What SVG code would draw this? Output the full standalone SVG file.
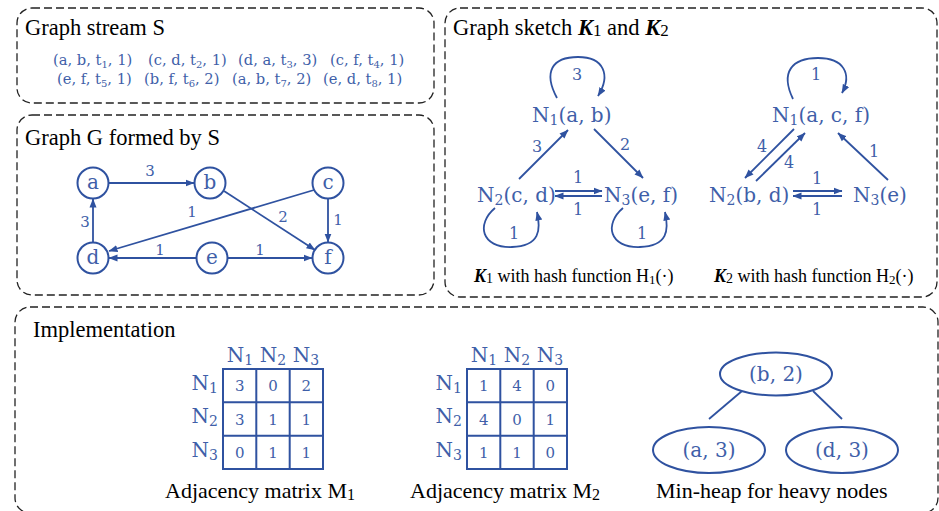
<svg xmlns="http://www.w3.org/2000/svg" width="939" height="511" viewBox="0 0 939 511">
<style>
.box{fill:none;stroke:#222;stroke-width:1.3;stroke-dasharray:8 4}
.ttl{font-family:"Liberation Serif","Times New Roman",serif;font-size:22.5px;fill:#000}
.cap{font-family:"Liberation Serif","Times New Roman",serif;font-size:18px;fill:#000}
.cap2{font-family:"Liberation Serif","Times New Roman",serif;font-size:22px;fill:#000}
.bt{font-family:"DejaVu Serif",serif;fill:#3f5fa9}
.st{font-size:14.7px}
.nl{font-size:20px}
.el{font-size:15px}
.sk{font-size:20px}
.mv{font-size:15px}
.edge{fill:none;stroke:#2f52a0;stroke-width:1.8}
.nd{fill:#fff;stroke:#2f52a0;stroke-width:2}
.grid{fill:none;stroke:#2f52a0;stroke-width:2}
.kk{font-weight:bold;font-style:italic}
</style>
<defs>
<marker id="ah" markerUnits="userSpaceOnUse" markerWidth="9" markerHeight="8" refX="8.5" refY="4" orient="auto">
<path d="M0,0.5 L9,4 L0,7.5 z" fill="#2f52a0"/>
</marker>
</defs>

<g id="panel-stream">
<rect class="box" x="17" y="8" width="417" height="95" rx="15"/>
<text class="ttl" font-family="Liberation Serif, serif" x="25" y="35">Graph stream S</text>
<g class="bt st">
<text x="53" y="65">(a, b, t<tspan font-size="10" dy="3">1</tspan><tspan dy="-3">, 1)</tspan></text>
<text x="148" y="65">(c, d, t<tspan font-size="10" dy="3">2</tspan><tspan dy="-3">, 1)</tspan></text>
<text x="238" y="65">(d, a, t<tspan font-size="10" dy="3">3</tspan><tspan dy="-3">, 3)</tspan></text>
<text x="330" y="65">(c, f, t<tspan font-size="10" dy="3">4</tspan><tspan dy="-3">, 1)</tspan></text>
<text x="57" y="84">(e, f, t<tspan font-size="10" dy="3">5</tspan><tspan dy="-3">, 1)</tspan></text>
<text x="144" y="84">(b, f, t<tspan font-size="10" dy="3">6</tspan><tspan dy="-3">, 2)</tspan></text>
<text x="232" y="84">(a, b, t<tspan font-size="10" dy="3">7</tspan><tspan dy="-3">, 2)</tspan></text>
<text x="323" y="84">(e, d, t<tspan font-size="10" dy="3">8</tspan><tspan dy="-3">, 1)</tspan></text>
</g>
</g>

<g id="panel-graph">
<rect class="box" x="17" y="115" width="417" height="180" rx="15"/>
<text class="ttl" font-family="Liberation Serif, serif" x="25" y="145">Graph G formed by S</text>
</g>

<g id="panel-sketch">
<rect class="box" x="445" y="8" width="492" height="289" rx="15"/>
<text class="ttl" font-family="Liberation Serif, serif" x="453" y="35">Graph sketch <tspan class="kk">K</tspan><tspan font-size="17" dy="1">1</tspan><tspan dy="-1"> and </tspan><tspan class="kk">K</tspan><tspan font-size="17" dy="1">2</tspan></text>
<text class="cap" font-family="Liberation Serif, serif" x="474" y="282"><tspan class="kk">K</tspan><tspan font-size="14" dy="1">1</tspan><tspan dy="-1"> with hash function H</tspan><tspan font-size="13" dy="2">1</tspan><tspan dy="-2">(·)</tspan></text>
<text class="cap" font-family="Liberation Serif, serif" x="714" y="282"><tspan class="kk">K</tspan><tspan font-size="14" dy="1">2</tspan><tspan dy="-1"> with hash function H</tspan><tspan font-size="13" dy="2">2</tspan><tspan dy="-2">(·)</tspan></text>
</g>

<g id="panel-impl">
<rect class="box" x="15" y="307" width="923" height="206" rx="15"/>
<text class="ttl" font-family="Liberation Serif, serif" x="33" y="337">Implementation</text>
<text class="cap2" font-family="Liberation Serif, serif" x="165" y="498">Adjacency matrix M<tspan font-size="16" dy="2">1</tspan></text>
<text class="cap2" font-family="Liberation Serif, serif" x="410" y="498">Adjacency matrix M<tspan font-size="16" dy="2">2</tspan></text>
<text class="cap2" font-family="Liberation Serif, serif" x="656" y="498">Min-heap for heavy nodes</text>
</g>

<g id="connectors">
<line class="edge" x1="109" y1="183" x2="194" y2="183" marker-end="url(#ah)"/>
<line class="edge" x1="224" y1="191" x2="315" y2="250" marker-end="url(#ah)"/>
<line class="edge" x1="314" y1="190" x2="109" y2="251" marker-end="url(#ah)"/>
<line class="edge" x1="328" y1="199" x2="328" y2="242" marker-end="url(#ah)"/>
<line class="edge" x1="93" y1="242" x2="93" y2="199" marker-end="url(#ah)"/>
<line class="edge" x1="196" y1="258" x2="109" y2="258" marker-end="url(#ah)"/>
<line class="edge" x1="228" y1="258" x2="312" y2="258" marker-end="url(#ah)"/>
<path class="edge" d="M557,98 C543,72 552,57 578,57 C604,57 611,75 598,96" marker-end="url(#ah)"/>
<line class="edge" x1="519" y1="179" x2="568" y2="130" marker-end="url(#ah)"/>
<line class="edge" x1="594" y1="129" x2="643" y2="178" marker-end="url(#ah)"/>
<line class="edge" x1="555" y1="191" x2="602" y2="191" marker-end="url(#ah)"/>
<line class="edge" x1="602" y1="196" x2="555" y2="196" marker-end="url(#ah)"/>
<path class="edge" d="M495,208 C476,224 481,248 512,247 C540,246 541,230 537,212" marker-end="url(#ah)"/>
<path class="edge" d="M623,208 C604,224 609,248 640,247 C668,246 669,230 665,212" marker-end="url(#ah)"/>
<path class="edge" d="M793,99 C780,72 792,58 818,58 C844,58 852,74 842,93" marker-end="url(#ah)"/>
<line class="edge" x1="794" y1="129" x2="745" y2="178" marker-end="url(#ah)"/>
<line class="edge" x1="756" y1="181" x2="805" y2="133" marker-end="url(#ah)"/>
<line class="edge" x1="888" y1="180" x2="838" y2="133" marker-end="url(#ah)"/>
<line class="edge" x1="793" y1="191" x2="842" y2="191" marker-end="url(#ah)"/>
<line class="edge" x1="842" y1="196" x2="793" y2="196" marker-end="url(#ah)"/>
<line class="edge" x1="742" y1="391" x2="709" y2="419"/>
<line class="edge" x1="813" y1="391" x2="842" y2="419"/>
</g>

<g class="bt el" id="edge-labels">
<text x="150" y="176" text-anchor="middle">3</text>
<text x="283" y="222" text-anchor="middle">2</text>
<text x="192" y="217" text-anchor="middle">1</text>
<text x="338" y="225" text-anchor="middle">1</text>
<text x="85" y="227" text-anchor="middle">3</text>
<text x="160" y="255" text-anchor="middle">1</text>
<text x="260" y="255" text-anchor="middle">1</text>
<g font-size="16">
<text x="577" y="80" text-anchor="middle">3</text>
<text x="537" y="152" text-anchor="middle">3</text>
<text x="625" y="150" text-anchor="middle">2</text>
<text x="578" y="183" text-anchor="middle">1</text>
<text x="578" y="215" text-anchor="middle">1</text>
<text x="514" y="239" text-anchor="middle">1</text>
<text x="642" y="239" text-anchor="middle">1</text>
<text x="816" y="80" text-anchor="middle">1</text>
<text x="762" y="152" text-anchor="middle">4</text>
<text x="789" y="168" text-anchor="middle">4</text>
<text x="874" y="157" text-anchor="middle">1</text>
<text x="817" y="184" text-anchor="middle">1</text>
<text x="817" y="215" text-anchor="middle">1</text>
</g>
</g>

<g id="node-a"><circle class="nd" cx="93" cy="183" r="15.5"/><text class="bt nl" x="93" y="189" text-anchor="middle">a</text></g>
<g id="node-b"><circle class="nd" cx="210" cy="183" r="15.5"/><text class="bt nl" x="210" y="189" text-anchor="middle">b</text></g>
<g id="node-c"><circle class="nd" cx="328" cy="183" r="15.5"/><text class="bt nl" x="328" y="189" text-anchor="middle">c</text></g>
<g id="node-d"><circle class="nd" cx="93" cy="258" r="15.5"/><text class="bt nl" x="93" y="264" text-anchor="middle">d</text></g>
<g id="node-e"><circle class="nd" cx="212" cy="258" r="15.5"/><text class="bt nl" x="212" y="264" text-anchor="middle">e</text></g>
<g id="node-f"><circle class="nd" cx="328" cy="258" r="15.5"/><text class="bt nl" x="328" y="264" text-anchor="middle">f</text></g>

<g id="k1-n1"><text class="bt sk" x="532" y="122">N<tspan font-size="14" dy="3">1</tspan><tspan dy="-3">(a, b)</tspan></text></g>
<g id="k1-n2"><text class="bt sk" x="477" y="202">N<tspan font-size="14" dy="3">2</tspan><tspan dy="-3">(c, d)</tspan></text></g>
<g id="k1-n3"><text class="bt sk" x="604" y="202">N<tspan font-size="14" dy="3">3</tspan><tspan dy="-3">(e, f)</tspan></text></g>
<g id="k2-n1"><text class="bt sk" x="772" y="122">N<tspan font-size="14" dy="3">1</tspan><tspan dy="-3">(a, c, f)</tspan></text></g>
<g id="k2-n2"><text class="bt sk" x="709" y="202">N<tspan font-size="14" dy="3">2</tspan><tspan dy="-3">(b, d)</tspan></text></g>
<g id="k2-n3"><text class="bt sk" x="853" y="202">N<tspan font-size="14" dy="3">3</tspan><tspan dy="-3">(e)</tspan></text></g>

<g id="matrix-m1">
<rect class="grid" x="223" y="369" width="100" height="100"/>
<path class="grid" d="M256.3,369 V469 M289.7,369 V469 M223,402.3 H323 M223,435.7 H323"/>
<g class="bt sk">
<text x="240" y="362" text-anchor="middle">N<tspan font-size="14" dy="3">1</tspan></text>
<text x="273" y="362" text-anchor="middle">N<tspan font-size="14" dy="3">2</tspan></text>
<text x="306" y="362" text-anchor="middle">N<tspan font-size="14" dy="3">3</tspan></text>
<text x="218" y="390" text-anchor="end">N<tspan font-size="14" dy="3">1</tspan></text>
<text x="218" y="423" text-anchor="end">N<tspan font-size="14" dy="3">2</tspan></text>
<text x="218" y="457" text-anchor="end">N<tspan font-size="14" dy="3">3</tspan></text>
</g>
<g class="bt mv" text-anchor="middle">
<text x="239.7" y="391">3</text><text x="273" y="391">0</text><text x="306.3" y="391">2</text>
<text x="239.7" y="424.5">3</text><text x="273" y="424.5">1</text><text x="306.3" y="424.5">1</text>
<text x="239.7" y="458">0</text><text x="273" y="458">1</text><text x="306.3" y="458">1</text>
</g>
</g>

<g id="matrix-m2">
<rect class="grid" x="467" y="369" width="100" height="100"/>
<path class="grid" d="M500.3,369 V469 M533.7,369 V469 M467,402.3 H567 M467,435.7 H567"/>
<g class="bt sk">
<text x="484" y="362" text-anchor="middle">N<tspan font-size="14" dy="3">1</tspan></text>
<text x="517" y="362" text-anchor="middle">N<tspan font-size="14" dy="3">2</tspan></text>
<text x="550" y="362" text-anchor="middle">N<tspan font-size="14" dy="3">3</tspan></text>
<text x="462" y="390" text-anchor="end">N<tspan font-size="14" dy="3">1</tspan></text>
<text x="462" y="423" text-anchor="end">N<tspan font-size="14" dy="3">2</tspan></text>
<text x="462" y="457" text-anchor="end">N<tspan font-size="14" dy="3">3</tspan></text>
</g>
<g class="bt mv" text-anchor="middle">
<text x="483.7" y="391">1</text><text x="517" y="391">4</text><text x="550.3" y="391">0</text>
<text x="483.7" y="424.5">4</text><text x="517" y="424.5">0</text><text x="550.3" y="424.5">1</text>
<text x="483.7" y="458">1</text><text x="517" y="458">1</text><text x="550.3" y="458">0</text>
</g>
</g>

<g id="heap-root"><ellipse class="nd" cx="776" cy="374" rx="56" ry="21.5"/><text class="bt sk" x="776" y="381" text-anchor="middle">(b, 2)</text></g>
<g id="heap-left"><ellipse class="nd" cx="709" cy="450" rx="56" ry="23"/><text class="bt sk" x="709" y="457" text-anchor="middle">(a, 3)</text></g>
<g id="heap-right"><ellipse class="nd" cx="842" cy="450" rx="56" ry="23"/><text class="bt sk" x="842" y="457" text-anchor="middle">(d, 3)</text></g>
</svg>
